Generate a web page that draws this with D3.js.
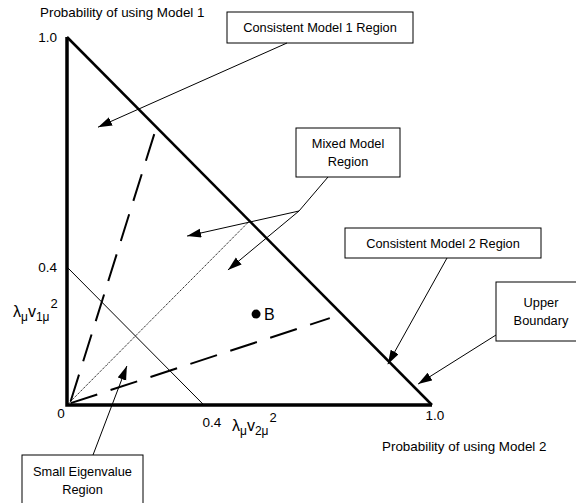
<!DOCTYPE html>
<html>
<head>
<meta charset="utf-8">
<script src="https://cdn.jsdelivr.net/npm/d3@7"></script>
<style>
  body { margin: 0; background: #fff; }
  text { font-family: "Liberation Sans", Arial, sans-serif; fill: #000; }
</style>
</head>
<body>
<script>
var width = 576, height = 503;

// triangle / region lines in probability units
const triangle = [[0, 1], [0, 0], [1, 0]];
const hypotenuse = [[0, 1], [1, 0]];
const eigenLine = [[0, 0.375], [0.375, 0]];
const mixedLine = [[0, 0], [0.5, 0.5]];
const dashedLines = [
    [[0.01, 0.01], [0.245, 0.755]],
    [[0.01, 0.005], [0.72, 0.236]]
];
const pointB = [0.518, 0.247];

const yTickVals = [1.0, 0.375];
const yTickLabels = ["1.0", "0.4"];
const xTickVals = [0, 0.375, 1.0];
const xTickLabels = ["0", "0.4", "1.0"];

// callouts: text lines + arrow tips (in probability units)
const calloutText = [
    ["Consistent Model 1 Region"],
    ["Mixed Model", "Region"],
    ["Consistent Model 2 Region"],
    ["Upper", "Boundary"],
    ["Small Eigenvalue", "Region"]
];
const calloutTips = [
    [[0.085, 0.755]],
    [[0.329, 0.459], [0.441, 0.367]],
    [[0.879, 0.111]],
    [[0.962, 0.057]],
    [[0.164, 0.106]]
];

// box layout in pixels: x, y, w, h, arrow start
const calloutBoxes = [
    {x: 227, y: 12, w: 186, h: 31, from: [[287, 43]]},
    {x: 296, y: 128, w: 104, h: 49, via: [328, 177], from: [[299, 211], [299, 211]]},
    {x: 345, y: 228, w: 196, h: 30, from: [[447, 258]]},
    {x: 496, y: 282, w: 90, h: 59, from: [[496, 335]]},
    {x: 22, y: 455, w: 121, h: 50, from: [[93, 455]]}
];

let svg = d3.select("body").append("svg")
    .attr("width", width).attr("height", height);

const x = d3.scaleLinear().domain([0, 1]).range([67, 432]);
const y = d3.scaleLinear().domain([0, 1]).range([405, 37]);

svg.append("defs").append("marker")
    .attr("id", "head")
    .attr("markerUnits", "userSpaceOnUse")
    .attr("markerWidth", 15).attr("markerHeight", 10)
    .attr("refX", 14).attr("refY", 4.5)
    .attr("orient", "auto")
    .append("path").attr("d", "M0,0 L14,4.5 L0,9 Z").attr("fill", "#000");

const line = d3.line().x(d => x(d[0])).y(d => y(d[1]));

// thin lines
svg.append("path").attr("d", line(eigenLine))
    .attr("fill", "none").attr("stroke", "#000").attr("stroke-width", 1);
svg.append("path").attr("d", line(mixedLine))
    .attr("fill", "none").attr("stroke", "#000").attr("stroke-width", 1)
    .attr("stroke-dasharray", "1.2,1");

svg.selectAll(".dash").data(dashedLines).enter().append("path")
    .attr("d", d => line(d))
    .attr("fill", "none").attr("stroke", "#000").attr("stroke-width", 2)
    .attr("stroke-dasharray", "28,14");

// axes & boundary
svg.append("path").attr("d", line(triangle))
    .attr("fill", "none").attr("stroke", "#000").attr("stroke-width", 3.5)
    .attr("stroke-linejoin", "miter");
svg.append("path").attr("d", line(hypotenuse))
    .attr("fill", "none").attr("stroke", "#000").attr("stroke-width", 2.5);

// point B
svg.append("circle").attr("cx", x(pointB[0])).attr("cy", y(pointB[1]))
    .attr("r", 4.5).attr("fill", "#000");
svg.append("text").attr("x", x(pointB[0]) + 8).attr("y", y(pointB[1]) + 6)
    .attr("font-size", 16).text("B");

// tick labels
svg.selectAll(".ytick").data(yTickVals).enter().append("text")
    .attr("x", 57).attr("y", d => y(d) + 5)
    .attr("text-anchor", "end").attr("font-size", 13.5)
    .text((d, i) => yTickLabels[i]);

const xTickDx = [-6, 8, 3], xTickDy = [13, 22, 15];
svg.selectAll(".xtick").data(xTickVals).enter().append("text")
    .attr("x", (d, i) => x(d) + xTickDx[i]).attr("y", (d, i) => y(0) + xTickDy[i])
    .attr("text-anchor", "middle").attr("font-size", 13.5)
    .text((d, i) => xTickLabels[i]);

// axis titles
svg.append("text").attr("x", 40).attr("y", 17).attr("font-size", 13.4)
    .text("Probability of using Model 1");
svg.append("text").attr("x", 382).attr("y", 451).attr("font-size", 13.4)
    .text("Probability of using Model 2");

function lambdaLabel(px, py, idx) {
    let t = svg.append("text").attr("x", px).attr("y", py).attr("font-size", 16);
    t.append("tspan").text("\u03bb");
    t.append("tspan").attr("font-size", 12).attr("dy", 4).text("\u03bc");
    t.append("tspan").attr("dy", -4).text("v");
    t.append("tspan").attr("font-size", 12).attr("dy", 4).text(idx + "\u03bc");
    t.append("tspan").attr("font-size", 13).attr("dy", -13).attr("dx", 1).text("2");
}
lambdaLabel(13, 317, "1");
lambdaLabel(232, 431, "2");

// callouts
calloutBoxes.forEach((b, i) => {
    let g = svg.append("g");
    g.append("rect").attr("x", b.x).attr("y", b.y).attr("width", b.w).attr("height", b.h)
        .attr("fill", "#fff").attr("stroke", "#000").attr("stroke-width", 1);
    let lines = calloutText[i];
    let lh = 18;
    let y0 = b.y + b.h / 2 - (lines.length - 1) * lh / 2 + 4.5;
    lines.forEach((s, j) => {
        g.append("text").attr("x", b.x + b.w / 2).attr("y", y0 + j * lh)
            .attr("text-anchor", "middle").attr("font-size", 12.8).text(s);
    });
    if (b.via) {
        svg.append("line").attr("x1", b.via[0]).attr("y1", b.via[1])
            .attr("x2", b.from[0][0]).attr("y2", b.from[0][1])
            .attr("stroke", "#000").attr("stroke-width", 1);
    }
    calloutTips[i].forEach((tip, j) => {
        svg.append("line")
            .attr("x1", b.from[j][0]).attr("y1", b.from[j][1])
            .attr("x2", x(tip[0])).attr("y2", y(tip[1]))
            .attr("stroke", "#000").attr("stroke-width", 1)
            .attr("marker-end", "url(#head)");
    });
});
</script>
</body>
</html>
